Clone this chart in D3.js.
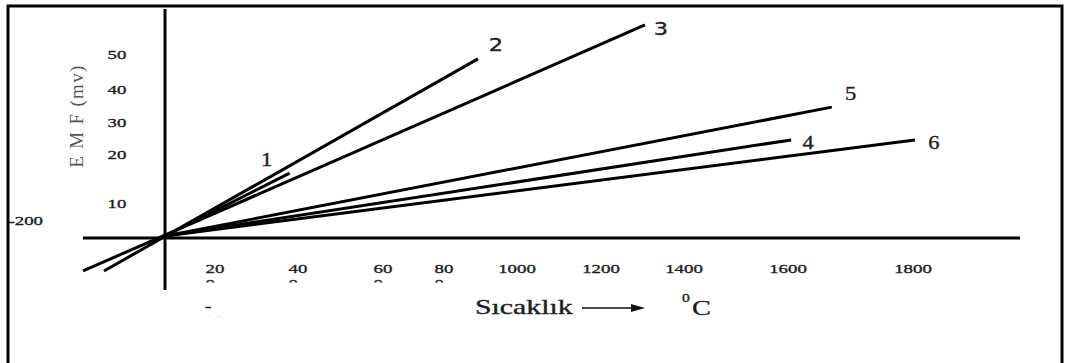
<!DOCTYPE html>
<html>
<head>
<meta charset="utf-8">
<script src="https://cdn.jsdelivr.net/npm/d3@7"></script>
<style>
body{margin:0;background:#fff;}
svg{display:block;}
</style>
</head>
<body>
<div id="chart"></div>
<script>
// EMF / temperature lines of the thermocouples
var seriesNames = ["1", "2", "3", "4", "5", "6"];
var startTemp = [0, -244, -328, 0, 0, 0];
var startEmf  = [0, -10.6, -10.6, 0, 0, 0];
var endTemp   = [380, 893, 1306, 1605, 1670, 1803];
var endEmf    = [16.1, 48.6, 58.3, 24.4, 34.5, 24.4];

var xTicks = [200, 400, 600, 800, 1000, 1200, 1400, 1600, 1800];
var yTicks = [10, 20, 30, 40, 50];

var width = 1065, height = 363;
var stretch = 1.45;   // the scanned text is wide
var ink = "#1e1e1e";

// label offsets from the line ends (px)
var labelDx = [-23, 18, 16, 17, 19, 19];
var labelDy = [-7, -8, 10, 9, -7, 9];
var labelFont = ["Liberation Serif", "DejaVu Sans", "DejaVu Sans", "Liberation Serif", "Liberation Serif", "Liberation Serif"];

var svg = d3.select("#chart").append("svg")
	.attr("width", width)
	.attr("height", height);

// the drawing is not to scale, so the axes are piecewise
var xScale = d3.scaleLinear()
	.domain([0].concat(xTicks))
	.range([165, 215, 298, 383, 444, 517, 601, 684, 788, 913]);
var yScale = d3.scaleLinear()
	.domain([0].concat(yTicks))
	.range([236, 203, 154, 122, 89, 54]);

function wideText(g, x, y, str, size, anchor, sx, family, fill)
{
	return g.append("text")
		.attr("transform", "translate(" + x + "," + y + ") scale(" + (sx || stretch) + ",1)")
		.attr("text-anchor", anchor || "middle")
		.style("font-family", family || "Liberation Serif")
		.style("font-size", size + "px")
		.style("fill", fill || ink)
		.style("stroke", fill || ink)
		.style("stroke-width", 0.35)
		.text(str);
}

// frame (bottom edge is cut off)
svg.append("path")
	.attr("d", "M8,366V6H1062V366")
	.style("fill", "none")
	.style("stroke", "#000")
	.style("stroke-width", 3);

var defs = svg.append("defs");
defs.append("clipPath").attr("id", "cutTicks")
	.append("rect").attr("x", 0).attr("y", 0).attr("width", width).attr("height", 282.5);
defs.append("clipPath").attr("id", "cutLow")
	.append("rect").attr("x", 0).attr("y", 0).attr("width", width).attr("height", 317);

// axes
var x0 = xScale(0), y0 = yScale(0) + 2;
svg.append("line")
	.attr("x1", x0).attr("x2", x0)
	.attr("y1", 9).attr("y2", 290)
	.style("stroke", "#000").style("stroke-width", 3);
svg.append("line")
	.attr("x1", 83).attr("x2", 1020)
	.attr("y1", y0).attr("y2", y0)
	.style("stroke", "#000").style("stroke-width", 3);

// lines
var line = d3.line()
	.x(function(d){ return xScale(d[0]); })
	.y(function(d){ return yScale(d[1]); });

var series = seriesNames.map(function(n, i){
	return { name: n, pts: [[startTemp[i], startEmf[i]], [endTemp[i], endEmf[i]]] };
});

svg.append("g")
	.attr("id", "lines")
	.selectAll("path")
	.data(series)
	.enter()
	.append("path")
	.attr("d", function(d){ return line(d.pts); })
	.style("fill", "none")
	.style("stroke", "#000")
	.style("stroke-width", 3);

var labels = svg.append("g").attr("id", "labels");
series.forEach(function(d, i){
	var e = d.pts[1];
	wideText(labels, xScale(e[0]) + labelDx[i], yScale(e[1]) + labelDy[i], d.name, 18, "middle", 1.25, labelFont[i], "#222");
});

// y tick labels
var yt = svg.append("g").attr("id", "yticks");
yTicks.forEach(function(v){
	wideText(yt, 117, yScale(v) + 4.5, String(v), 13, "middle");
});

// x tick labels, the short boxes wrap 200..800 onto two lines
var xt = svg.append("g").attr("id", "xticks");
var xtCut = svg.append("g").attr("clip-path", "url(#cutTicks)");
var digitW = 13 * 0.5 * stretch;
xTicks.forEach(function(v){
	var s = String(v);
	if (v < 1000) {
		var left = xScale(v) - digitW;
		wideText(xt, left, 273, s.slice(0, 2), 13, "start");
		wideText(xtCut, left, 288, s.slice(2), 13, "start");
	} else {
		wideText(xt, xScale(v), 273, s, 13, "middle");
	}
});

// stray bits of the original text boxes
wideText(svg, 43, 225, "-200", 13, "end");
wideText(svg, 205, 310, "-", 13, "start");
wideText(svg.append("g").attr("clip-path", "url(#cutLow)"), 205, 325, "10", 13, "start");

// axis titles
svg.append("text")
	.attr("transform", "translate(83,116) rotate(-90)")
	.attr("text-anchor", "middle")
	.style("font-family", "Liberation Serif")
	.style("font-size", "19px")
	.style("letter-spacing", "1.3px")
	.style("fill", "#555")
	.text("E M F (mv)");

wideText(svg, 475, 314, "Sıcaklık", 20, "start", 1.49);
svg.append("line")
	.attr("x1", 582).attr("x2", 633)
	.attr("y1", 308).attr("y2", 308)
	.style("stroke", "#111").style("stroke-width", 1.5);
svg.append("path")
	.attr("d", "M631,304L645,308L631,312Z")
	.style("fill", "#111");
wideText(svg, 682, 302, "0", 13, "start", 1.2);
wideText(svg, 692, 315, "C", 21, "start", 1.35);
</script>
</body>
</html>
